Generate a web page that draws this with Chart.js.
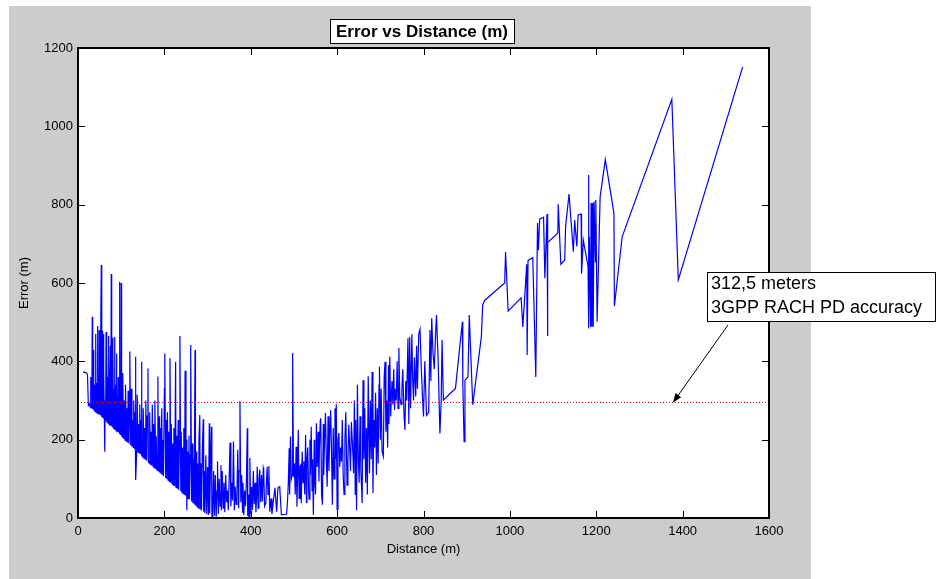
<!DOCTYPE html>
<html>
<head>
<meta charset="utf-8">
<title>Error vs Distance (m)</title>
<script src="https://cdn.jsdelivr.net/npm/chart.js@4.4.1/dist/chart.umd.min.js"></script>
<style>
  html, body { margin: 0; padding: 0; background: #fff; }
  #wrap { width: 936px; height: 579px; }
</style>
</head>
<body>
<div id="wrap"><canvas id="errorChart" width="936" height="579"></canvas></div>
<script>
// distance (m) of each measurement, in plot order
const distance = [
  12, 20, 22, 24, 26, 28, 29, 30, 31, 32,
  33, 34, 35, 36, 37, 38, 39, 40, 41, 42,
  43, 44, 45, 46, 47, 48, 49, 50, 51, 52,
  53, 54, 55, 56, 57, 58, 59, 60, 61, 62,
  63, 64, 65, 66, 67, 68, 69, 70, 71, 72,
  73, 74, 75, 76, 77, 78, 79, 80, 81, 82,
  83, 84, 85, 86, 87, 88, 89, 90, 91, 92,
  93, 94, 95, 96, 97, 98, 99, 100, 101, 102,
  103, 104, 106, 107, 109, 110, 112, 113, 115, 116,
  118, 119, 120, 122, 123, 125, 126, 128, 129, 131,
  132, 133, 134, 136, 137, 139, 140, 142, 143, 145,
  146, 147, 148, 150, 151, 153, 154, 156, 157, 159,
  160, 162, 163, 165, 166, 168, 169, 171, 172, 174,
  175, 177, 178, 180, 181, 183, 185, 186, 188, 189,
  191, 192, 194, 195, 197, 198, 200, 201, 203, 204,
  206, 207, 209, 210, 212, 213, 215, 216, 218, 219,
  221, 222, 224, 226, 227, 229, 230, 232, 233, 235,
  236, 238, 239, 241, 242, 244, 245, 247, 248, 250,
  251, 252, 254, 255, 257, 258, 260, 261, 263, 264,
  266, 267, 269, 271, 272, 274, 275, 277, 278, 280,
  282, 283, 285, 286, 288, 290, 291, 293, 294, 296,
  298, 300, 302, 304, 305, 307, 309, 310, 312, 314,
  316, 318, 320, 322, 323, 325, 327, 329, 331, 332,
  334, 336, 338, 340, 342, 344, 346, 348, 350, 352,
  354, 356, 358, 360, 362, 364, 366, 368, 370, 372,
  373, 375, 377, 379, 381, 382, 384, 386, 388, 390,
  392, 393, 395, 396, 398, 400, 402, 404, 406, 408,
  410, 412, 414, 415, 417, 419, 421, 423, 425, 427,
  429, 430, 432, 435, 436, 438, 440, 442, 444, 447,
  449, 452, 456, 460, 463, 467, 471, 476, 480, 483,
  485, 487, 489, 490, 492, 494, 496, 497, 499, 501,
  503, 505, 507, 509, 510, 512, 514, 516, 517, 519,
  521, 523, 525, 527, 529, 530, 532, 534, 535, 537,
  538, 540, 542, 543, 545, 547, 548, 550, 552, 554,
  556, 558, 559, 561, 562, 564, 566, 568, 569, 571,
  573, 575, 577, 579, 581, 583, 585, 587, 589, 591,
  593, 595, 597, 598, 600, 602, 604, 606, 608, 610,
  612, 614, 616, 618, 620, 623, 625, 627, 629, 631,
  633, 635, 637, 638, 640, 642, 643, 645, 647, 649,
  651, 653, 655, 658, 660, 662, 664, 666, 668, 670,
  672, 674, 675, 677, 679, 681, 683, 685, 687, 689,
  691, 693, 695, 697, 698, 700, 702, 704, 707, 709,
  711, 713, 715, 717, 719, 720, 722, 724, 727, 729,
  731, 733, 735, 737, 739, 741, 743, 745, 748, 750,
  752, 755, 757, 759, 761, 764, 766, 768, 770, 773,
  775, 777, 779, 782, 784, 786, 789, 792, 795, 798,
  800, 803, 807, 812, 815, 817, 819, 822, 825, 828,
  830, 834, 838, 841, 843, 846, 860, 874, 890, 891,
  894, 896, 903, 906, 914, 934, 937, 942, 988, 990,
  996, 1026, 1030, 1039, 1040, 1042, 1053, 1060, 1064, 1066,
  1069, 1078, 1081, 1086, 1087, 1088, 1111, 1112, 1118, 1127,
  1129, 1137, 1147, 1150, 1155, 1158, 1165, 1166, 1170, 1181,
  1182, 1183, 1184, 1187, 1188, 1190, 1192, 1193, 1195, 1198,
  1199, 1202, 1209, 1221, 1241, 1242, 1260, 1375, 1390, 1539
];

// positioning error (m) at each distance
const error = [
  373, 370, 365, 288, 292, 284, 360, 282, 352, 280,
  514, 278, 429, 276, 350, 274, 340, 272, 470, 270,
  345, 268, 490, 267, 330, 265, 480, 264, 400, 262,
  470, 646, 258, 478, 256, 470, 254, 380, 252, 169,
  300, 248, 475, 246, 420, 244, 360, 242, 465, 240,
  380, 238, 440, 236, 623, 234, 345, 232, 460, 230,
  330, 228, 462, 226, 340, 224, 420, 222, 310, 220,
  360, 218, 298, 603, 214, 380, 212, 600, 208, 330,
  205, 370, 202, 300, 199, 340, 196, 280, 193, 325,
  190, 260, 425, 186, 330, 182, 250, 180, 300, 176,
  270, 412, 97, 172, 315, 168, 240, 166, 290, 163,
  250, 399, 160, 156, 280, 153, 230, 150, 300, 147,
  260, 382, 143, 140, 270, 137, 220, 134, 290, 131,
  240, 128, 300, 125, 210, 122, 361, 119, 260, 116,
  230, 113, 280, 110, 200, 107, 330, 420, 102, 250,
  99, 270, 96, 220, 93, 408, 90, 240, 87, 190,
  84, 230, 81, 399, 78, 210, 75, 250, 72, 200,
  465, 68, 220, 65, 180, 62, 230, 59, 376, 56,
  200, 20, 170, 50, 210, 47, 160, 442, 42, 190,
  38, 150, 35, 429, 32, 170, 29, 140, 26, 200,
  263, 22, 140, 19, 180, 252, 16, 120, 13, 160,
  10, 130, 8, 242, 12, 150, 233, 4, 0, 120,
  5, 110, 3, 70, 144, 10, 100, 30, 135, 20,
  120, 25, 90, 15, 110, 40, 70, 20, 100, 192,
  30, 90, 45, 195, 20, 80, 35, 60, 174, 25,
  120, 299, 40, 110, 15, 90, 8, 70, 30, 100,
  229, 5, 60, 0, 153, 10, 80, 20, 120, 35,
  90, 15, 70, 131, 25, 100, 123, 40, 110, 42,
  128, 123, 30, 38, 80, 131, 60, 133, 16, 50,
  10, 40, 77, 16, 77, 80, 8, 9, 9, 10,
  40, 90, 178, 60, 208, 100, 110, 421, 105, 140,
  60, 182, 29, 140, 225, 50, 131, 135, 38, 170,
  90, 145, 60, 212, 40, 143, 180, 70, 48, 200,
  110, 233, 70, 150, 8, 200, 100, 60, 242, 130,
  220, 93, 180, 250, 255, 60, 34, 240, 110, 200,
  268, 150, 80, 260, 120, 210, 276, 170, 34, 230,
  100, 280, 150, 291, 21, 200, 217, 130, 180, 144,
  250, 110, 60, 200, 270, 84, 150, 238, 180, 120,
  245, 200, 150, 114, 300, 60, 250, 20, 340, 150,
  90, 260, 120, 38, 352, 150, 280, 90, 230, 60,
  362, 200, 114, 300, 150, 373, 63, 250, 180, 320,
  110, 280, 139, 340, 386, 200, 330, 170, 157, 360,
  399, 220, 300, 180, 390, 240, 412, 259, 350, 290,
  380, 276, 330, 300, 400, 280, 434, 310, 290, 330,
  380, 260, 225, 350, 300, 459, 240, 462, 280, 469,
  350, 300, 410, 310, 440, 330, 470, 482, 380, 300,
  259, 400, 262, 270, 480, 350, 510, 420, 380, 470,
  518, 400, 216, 300, 455, 301, 316, 331, 501, 344,
  195, 352, 360, 518, 289, 463, 544, 556, 600, 679,
  528, 562, 488, 648, 416, 657, 665, 360, 753, 684,
  763, 768, 612, 776, 465, 703, 728, 801, 648, 659,
  744, 827, 680, 761, 693, 774, 776, 624, 710, 642,
  876, 484, 718, 488, 804, 488, 804, 488, 808, 654,
  812, 501, 820, 915, 778, 541, 718, 1069, 608, 1152
];

// 3GPP RACH propagation delay accuracy line
const thresholdX = [0, 1600];
const thresholdY = [295, 295];

const xTicks = [0, 200, 400, 600, 800, 1000, 1200, 1400, 1600];
const yTicks = [0, 200, 400, 600, 800, 1000, 1200];

const titleText = "Error vs Distance (m)";
const noteLines = ["312,5 meters", "3GPP RACH PD accuracy"];
const noteTargetX = 1378;

const fontFamily = "'Liberation Sans', Arial, Helvetica, sans-serif";
Chart.defaults.font.family = fontFamily;
Chart.defaults.color = "#000";

// gray figure, white axes, inward ticks, boxed title and the text note
const matlabLook = {
    id: "matlabLook",
    beforeDraw(chart) {
        const ctx = chart.ctx;
        const a = chart.chartArea;
        ctx.save();
        ctx.fillStyle = "#ffffff";
        ctx.fillRect(0, 0, chart.width, chart.height);
        ctx.fillStyle = "#cccccc";
        ctx.fillRect(9, 6, 802, 573);
        ctx.fillStyle = "#ffffff";
        ctx.fillRect(a.left, a.top, a.right - a.left, a.bottom - a.top);
        ctx.restore();
    },
    afterDraw(chart) {
        const ctx = chart.ctx;
        const a = chart.chartArea;
        const xs = chart.scales.x;
        const ys = chart.scales.y;
        ctx.save();

        // ticks on all four sides, pointing inside
        ctx.strokeStyle = "#000";
        ctx.lineWidth = 1;
        ctx.beginPath();
        xTicks.forEach(v => {
            const p = Math.round(xs.getPixelForValue(v)) + 0.5;
            ctx.moveTo(p, a.bottom); ctx.lineTo(p, a.bottom - 7);
            ctx.moveTo(p, a.top); ctx.lineTo(p, a.top + 7);
        });
        yTicks.forEach(v => {
            const p = Math.round(ys.getPixelForValue(v)) + 0.5;
            ctx.moveTo(a.left, p); ctx.lineTo(a.left + 7, p);
            ctx.moveTo(a.right, p); ctx.lineTo(a.right - 7, p);
        });
        ctx.stroke();

        ctx.lineWidth = 2;
        ctx.strokeRect(a.left, a.top, a.right - a.left, a.bottom - a.top);

        // boxed title
        ctx.font = "bold 17px " + fontFamily;
        const tw = ctx.measureText(titleText).width;
        const cx = 422;
        const bx = Math.round(cx - tw / 2 - 6) + 0.5;
        ctx.fillStyle = "#fff";
        ctx.fillRect(bx, 19.5, tw + 12, 24);
        ctx.lineWidth = 1;
        ctx.strokeRect(bx, 19.5, Math.round(tw + 12), 24);
        ctx.fillStyle = "#000";
        ctx.textAlign = "center";
        ctx.textBaseline = "middle";
        ctx.fillText(titleText, cx, 32);

        // note box
        ctx.fillStyle = "#fff";
        ctx.fillRect(707.5, 272.5, 228, 49);
        ctx.strokeRect(707.5, 272.5, 228, 49);
        ctx.fillStyle = "#000";
        ctx.font = "18px " + fontFamily;
        ctx.textAlign = "left";
        ctx.fillText(noteLines[0], 711, 284);
        ctx.fillText(noteLines[1], 711, 308);

        // arrow from note to the threshold line
        const tx = xs.getPixelForValue(noteTargetX);
        const ty = ys.getPixelForValue(thresholdY[0]);
        const sx = 728, sy = 325;
        const ang = Math.atan2(ty - sy, tx - sx);
        ctx.beginPath();
        ctx.moveTo(sx, sy);
        ctx.lineTo(tx, ty);
        ctx.stroke();
        ctx.beginPath();
        ctx.moveTo(tx, ty);
        ctx.lineTo(tx - 9 * Math.cos(ang) + 3.5 * Math.sin(ang), ty - 9 * Math.sin(ang) - 3.5 * Math.cos(ang));
        ctx.lineTo(tx - 9 * Math.cos(ang) - 3.5 * Math.sin(ang), ty - 9 * Math.sin(ang) + 3.5 * Math.cos(ang));
        ctx.closePath();
        ctx.fill();

        ctx.restore();
    }
};

const ctx = document.getElementById("errorChart").getContext("2d");
new Chart(ctx, {
    type: "scatter",
    data: {
        datasets: [
            {
                label: "Error",
                data: distance.map((d, i) => ({ x: d, y: error[i] })),
                showLine: true,
                borderColor: "#0000ff",
                borderWidth: 1.2,
                pointRadius: 0,
                tension: 0,
                order: 1
            },
            {
                label: "3GPP RACH PD accuracy",
                data: thresholdX.map((d, i) => ({ x: d, y: thresholdY[i] })),
                showLine: true,
                borderColor: "#ff0000",
                borderWidth: 1,
                borderDash: [1, 2],
                pointRadius: 0,
                order: 0
            }
        ]
    },
    options: {
        responsive: false,
        animation: false,
        devicePixelRatio: 1,
        layout: { padding: { top: 48, right: 167, bottom: 0, left: 0 } },
        plugins: {
            legend: { display: false },
            tooltip: { enabled: false }
        },
        scales: {
            x: {
                type: "linear",
                min: 0,
                max: 1600,
                afterBuildTicks: s => { s.ticks = xTicks.map(v => ({ value: v })); },
                afterFit: s => { s.height = 61; },
                ticks: { padding: 6, maxRotation: 0, font: { size: 13 }, color: "#000", callback: v => String(v) },
                grid: { display: false, drawTicks: false },
                border: { display: false },
                title: { display: true, text: "Distance (m)", font: { size: 13 }, color: "#000", padding: { top: 0, bottom: 22 } }
            },
            y: {
                type: "linear",
                min: 0,
                max: 1200,
                afterBuildTicks: s => { s.ticks = yTicks.map(v => ({ value: v })); },
                afterFit: s => { s.width = 78; },
                ticks: { padding: 5, font: { size: 13 }, color: "#000", callback: v => String(v) },
                grid: { display: false, drawTicks: false },
                border: { display: false },
                title: { display: true, text: "Error (m)", font: { size: 13 }, color: "#000", padding: { top: 17, bottom: 0 } }
            }
        }
    },
    plugins: [matlabLook]
});
</script>
</body>
</html>
